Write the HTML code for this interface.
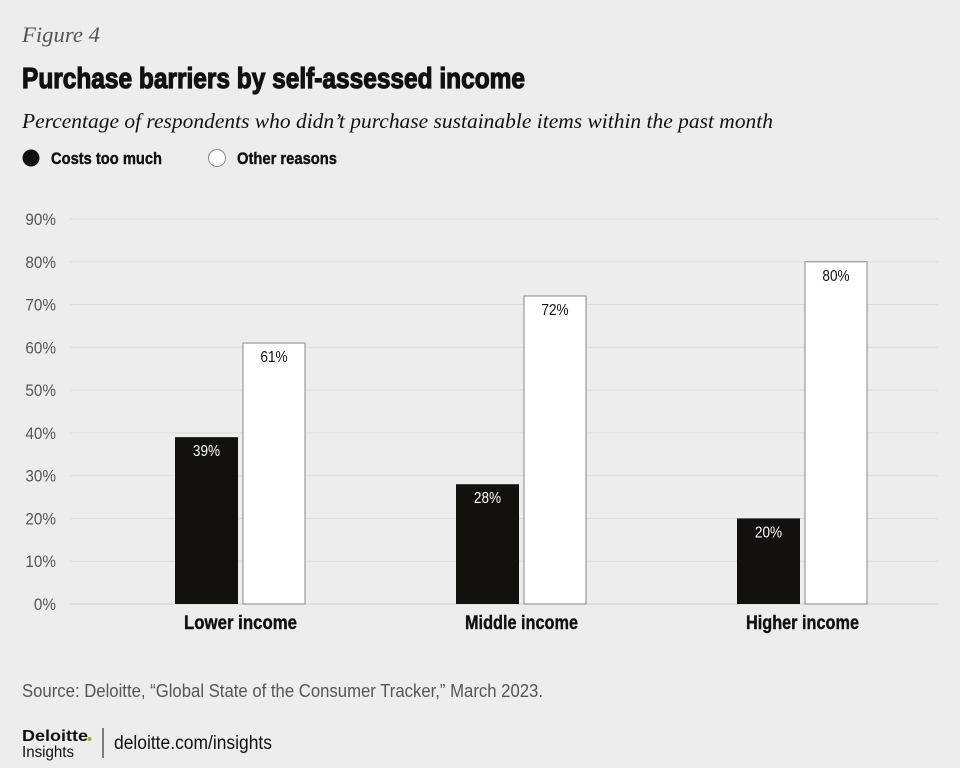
<!DOCTYPE html>
<html><head><meta charset="utf-8"><style>
html,body{margin:0;padding:0;background:#ededed;}
svg{display:block;}
.cond{font-family:"Liberation Sans Narrow","Liberation Sans",sans-serif;}
.serif{font-family:"Liberation Serif",serif;font-style:italic;}
</style></head><body>
<svg id="chart" width="960" height="768" viewBox="0 0 960 768">
<rect x="0" y="0" width="960" height="768" fill="#ededed"/>
<text x="22" y="42" class="serif" font-size="22" fill="#555" textLength="78" lengthAdjust="spacingAndGlyphs">Figure 4</text>
<text x="22" y="88" class="cond" font-size="29" font-weight="bold" fill="#111" stroke="#111" stroke-width="1.2" textLength="503" lengthAdjust="spacingAndGlyphs">Purchase barriers by self-assessed income</text>
<text x="22" y="128" class="serif" font-size="21" fill="#111" textLength="751" lengthAdjust="spacingAndGlyphs">Percentage of respondents who didn’t purchase sustainable items within the past month</text>
<g>
<g>
<circle cx="31" cy="158" r="8.5" fill="#111"/>
<text x="51" y="164" class="cond" font-size="17" font-weight="bold" fill="#111" stroke="#111" stroke-width="0.4" textLength="111" lengthAdjust="spacingAndGlyphs">Costs too much</text>
</g>
<g>
<circle cx="217" cy="158" r="8.5" fill="#fff" stroke="#888" stroke-width="1"/>
<text x="237" y="164" class="cond" font-size="17" font-weight="bold" fill="#111" stroke="#111" stroke-width="0.4" textLength="100" lengthAdjust="spacingAndGlyphs">Other reasons</text>
</g>
</g>
<g id="grid"></g>
<g id="yaxis"></g>
<g id="bars"></g>
<g id="xaxis"></g>
<text x="22" y="697" class="cond" font-size="18" fill="#555" textLength="521" lengthAdjust="spacingAndGlyphs">Source: Deloitte, “Global State of the Consumer Tracker,” March 2023.</text>
<g>
<text x="22" y="741" font-family="Liberation Sans,sans-serif" font-size="16" font-weight="bold" fill="#111" textLength="66" lengthAdjust="spacingAndGlyphs">Deloitte</text>
<circle cx="89.5" cy="739" r="2" fill="#86bc25"/>
<text x="22" y="757" class="cond" font-size="16" fill="#111" textLength="52" lengthAdjust="spacingAndGlyphs">Insights</text>
</g>
<line x1="103" y1="728" x2="103" y2="758" stroke="#333" stroke-width="1.2"/>
<text x="114" y="749" class="cond" font-size="19" fill="#111" textLength="158" lengthAdjust="spacingAndGlyphs">deloitte.com/insights</text>
</svg>
<script>
const categories = ["Lower income", "Middle income", "Higher income"];
const costsTooMuch = [39, 28, 20];
const otherReasons = [61, 72, 80];
const yTicks = [0, 10, 20, 30, 40, 50, 60, 70, 80, 90];

const NS = "http://www.w3.org/2000/svg";
const y = v => 604 - v * (385 / 90);
const bandStart = 100, bandW = 281;
const xc = i => bandStart + bandW * (i + 0.5);
function mk(tag, attrs, parent, txt) {
  const e = document.createElementNS(NS, tag);
  for (const k in attrs) e.setAttribute(k, attrs[k]);
  if (txt !== undefined) e.textContent = txt;
  parent.appendChild(e);
  return e;
}
const grid = document.getElementById("grid");
const yaxis = document.getElementById("yaxis");
yTicks.forEach(t => {
  const l = mk("line", {x1: 70, x2: 938, y1: y(t), y2: y(t), stroke: t === 0 ? "#cfcfcf" : "#dcdcdc", "stroke-width": 1}, grid);
  
  
  const tx = mk("text", {x: 56, y: y(t) + 6, "text-anchor": "end", class: "cond", "font-size": 17, fill: "#555", transform: "translate(56 0) scale(0.9 1) translate(-56 0)"}, yaxis, t + "%");
  
  
});
const bars = document.getElementById("bars");
const xaxis = document.getElementById("xaxis");
categories.forEach((c, i) => {
  const cx = xc(i);
  const v1 = costsTooMuch[i], v2 = otherReasons[i];
  const b1 = mk("rect", {x: cx - 65.5, y: y(v1), width: 63, height: y(0) - y(v1), fill: "#12110e"}, bars);
  
  
  const l1 = mk("text", {x: cx - 34, y: y(v1) + 19, "text-anchor": "middle", class: "cond", "font-size": 16, fill: "#fff", transform: `translate(${cx - 34} 0) scale(0.85 1) translate(${-(cx - 34)} 0)`}, bars, v1 + "%");
  
  
  const b2 = mk("rect", {x: cx + 2.5, y: y(v2), width: 62, height: y(0) - y(v2), fill: "#fff", stroke: "#888", "stroke-width": 1}, bars);
  
  
  const l2 = mk("text", {x: cx + 33.5, y: y(v2) + 19, "text-anchor": "middle", class: "cond", "font-size": 16, fill: "#111", transform: `translate(${cx + 33.5} 0) scale(0.85 1) translate(${-(cx + 33.5)} 0)`}, bars, v2 + "%");
  
  
  const cl = mk("text", {x: cx, y: 629, "text-anchor": "middle", class: "cond", "font-size": 19, "font-weight": "bold", fill: "#111", stroke: "#111", "stroke-width": 0.4, textLength: 113, lengthAdjust: "spacingAndGlyphs"}, xaxis, c);
  
  
});
</script>
</body></html>
